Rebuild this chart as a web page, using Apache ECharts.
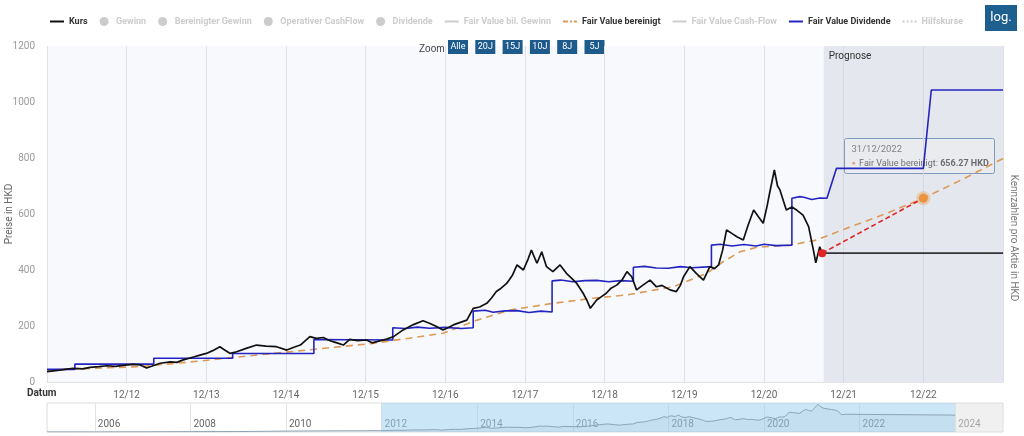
<!DOCTYPE html>
<html>
<head>
<meta charset="utf-8">
<script src="https://cdn.jsdelivr.net/npm/echarts@6/dist/echarts.min.js"></script>
<style>
html,body{margin:0;padding:0;background:#fff;}
#chart{width:1024px;height:436px;}
</style>
</head>
<body>
<div id="chart"></div>
<script>
// ---------- DATA ----------
const legendNames = ['Kurs','Gewinn','Bereinigter Gewinn','Operativer CashFlow','Dividende','Fair Value bil. Gewinn','Fair Value bereinigt','Fair Value Cash-Flow','Fair Value Dividende','Hilfskurse'];
const xTickLabels = ['12/12','12/13','12/14','12/15','12/16','12/17','12/18','12/19','12/20','12/21','12/22'];
const navYears = [2006,2008,2010,2012,2014,2016,2018,2020,2022,2024];
const zoomButtons = ['Alle','20J','15J','10J','8J','5J'];

const kurs = [
[2012.00,37],[2012.08,40],[2012.16,42],[2012.25,46],[2012.33,49],[2012.45,47],[2012.54,52],[2012.65,55],[2012.75,58],[2012.86,56],[2012.98,60],
[2013.08,63],[2013.17,61],[2013.25,50],[2013.33,58],[2013.42,67],[2013.55,72],[2013.63,70],[2013.71,79],[2013.85,90],[2013.92,96],
[2014.00,102],[2014.08,112],[2014.17,126],[2014.22,116],[2014.30,102],[2014.38,108],[2014.50,120],[2014.63,132],[2014.75,128],[2014.88,126],
[2015.01,114],[2015.10,124],[2015.18,132],[2015.30,162],[2015.38,156],[2015.47,159],[2015.53,150],[2015.59,144],[2015.66,138],[2015.72,132],
[2015.80,152],[2015.90,148],[2016.01,150],[2016.08,140],[2016.14,144],[2016.25,152],[2016.35,162],[2016.47,186],[2016.60,205],[2016.72,219],
[2016.80,210],[2016.89,198],[2016.97,186],[2017.04,195],[2017.10,204],[2017.18,212],[2017.27,221],[2017.35,263],[2017.43,268],[2017.52,281],
[2017.58,300],[2017.64,323],[2017.70,335],[2017.77,352],[2017.84,380],[2017.90,418],[2017.98,400],[2018.04,440],[2018.08,471],[2018.15,424],
[2018.21,465],[2018.27,412],[2018.35,394],[2018.44,418],[2018.52,388],[2018.58,372],[2018.65,352],[2018.73,317],[2018.78,290],[2018.82,263],
[2018.90,293],[2018.96,305],[2019.02,317],[2019.08,335],[2019.15,346],[2019.22,365],[2019.28,394],[2019.34,376],[2019.40,329],[2019.48,346],
[2019.57,364],[2019.65,340],[2019.72,345],[2019.82,329],[2019.90,323],[2019.95,345],[2019.99,376],[2020.07,412],[2020.15,388],[2020.24,364],
[2020.32,412],[2020.38,405],[2020.43,418],[2020.48,470],[2020.53,543],[2020.60,530],[2020.66,519],[2020.74,507],[2020.80,560],[2020.87,614],
[2020.93,590],[2020.99,567],[2021.04,630],[2021.07,674],[2021.13,757],[2021.17,700],[2021.20,686],[2021.24,650],[2021.28,614],[2021.35,625],
[2021.41,614],[2021.49,596],[2021.56,555],[2021.62,471],[2021.65,426],[2021.70,483],[2021.73,460]
];
const kursPrognose = [[2021.73,460],[2024.0,460]];
const kursEarly = [[2005.0,1],[2006.0,2],[2007.0,5],[2008.0,10],[2009.0,12],[2010.0,25],[2011.0,32],[2011.6,34]];

const fvDividende = [
[2012.00,45],[2012.35,45],[2012.35,64],[2013.34,64],[2013.34,85],[2014.33,85],[2014.33,102],[2015.35,102],[2015.35,152],[2016.34,150],
[2016.34,194],[2016.5,191],[2016.65,196],[2016.8,192],[2017.0,195],[2017.2,191],[2017.35,194],[2017.35,253],[2017.5,256],[2017.6,249],
[2017.75,254],[2017.9,255],[2018.05,248],[2018.2,253],[2018.34,250],[2018.34,361],[2018.45,364],[2018.6,358],[2018.75,362],[2018.9,363],
[2019.05,358],[2019.2,362],[2019.36,360],[2019.36,410],[2019.5,413],[2019.65,407],[2019.8,406],[2019.95,412],[2020.1,408],[2020.34,412],
[2020.34,489],[2020.45,492],[2020.6,486],[2020.75,491],[2020.9,486],[2021.0,492],[2021.15,487],[2021.35,489],[2021.35,656],[2021.45,662],
[2021.5,660],[2021.6,652],[2021.7,657],[2021.79,656],[2021.91,763],[2023.0,763],[2023.10,1043],[2024.0,1043]
];
const fvBereinigt = [
[2012.0,43],[2013.17,55],[2013.92,75],[2014.84,102],[2016.09,138],[2016.97,174],[2017.40,221],[2017.81,257],[2018.35,281],[2018.85,299],
[2019.28,311],[2019.86,340],[2020.28,388],[2020.49,430],[2020.70,465],[2020.91,481],[2021.33,489],[2021.66,507],[2022.0,545],[2022.5,598],
[2023.0,656.27],[2023.5,725],[2024.0,798]
];
const prognosePfad = [[2021.73,460],[2023.0,656.27]];
const prognoseStart = 2021.75;

// ---------- CHART ----------
const chart = echarts.init(document.getElementById('chart'), null, {renderer:'canvas'});
const FONT = 'Roboto, "Open Sans", sans-serif';
const hidden = {};
['Gewinn','Bereinigter Gewinn','Operativer CashFlow','Dividende','Fair Value bil. Gewinn','Fair Value Cash-Flow','Hilfskurse'].forEach(n=>hidden[n]=false);
const ICON_CIRCLE = 'circle';
const ICON_LINE = 'path://M0,0 L14,0 L14,2 L0,2 Z';
const ICON_DASH = 'path://M0,0 L5,0 L5,2 L0,2 Z M7,0 L9,0 L9,2 L7,2 Z M11,0 L14,0 L14,2 L11,2 Z';
const ICON_DOT = 'path://M0,0 L2,0 L2,2 L0,2 Z M4,0 L6,0 L6,2 L4,2 Z M8,0 L10,0 L10,2 L8,2 Z M12,0 L14,0 L14,2 L12,2 Z';
const legendIcons = {'Kurs':ICON_LINE,'Gewinn':ICON_CIRCLE,'Bereinigter Gewinn':ICON_CIRCLE,'Operativer CashFlow':ICON_CIRCLE,'Dividende':ICON_CIRCLE,
  'Fair Value bil. Gewinn':ICON_LINE,'Fair Value bereinigt':ICON_DASH,'Fair Value Cash-Flow':ICON_LINE,'Fair Value Dividende':ICON_LINE,'Hilfskurse':ICON_DOT};

const emptySeries = (name, extra) => Object.assign({name, type:'line', data:[], symbol:'none', xAxisIndex:0, yAxisIndex:1, lineStyle:{width:1.5, color:'#999'}, itemStyle:{color:'#999'}}, extra||{});

const option = {
  animation:false,
  textStyle:{fontFamily:FONT},
  legend:{
    left:45, top:12, itemGap:12, itemWidth:14, itemHeight:9, itemTextGap:4,
    textStyle:{fontSize:9, fontWeight:'bold', color:'#333', fontFamily:FONT},
    inactiveColor:'#cccccc',
    selected:hidden,
    data: legendNames.map(n => ({name:n, icon:legendIcons[n]}))
  },
  grid:[
    {left:47, right:21, top:46, bottom:54, show:true, backgroundColor:'#f7f9fd', borderWidth:0, outerBoundsMode:'none', containLabel:false},
    {left:47, right:21, top:403, height:29, show:true, backgroundColor:'transparent', borderColor:'#dcdcdc', borderWidth:1, outerBoundsMode:'none', containLabel:false}
  ],
  xAxis:[
    {type:'value', gridIndex:0, min:2012, max:2024, interval:1,
     axisLine:{show:true, lineStyle:{color:'#e3e3e3'}}, axisTick:{show:false},
     splitLine:{show:true, lineStyle:{color:'#dde1e7', width:1}},
     axisLabel:{color:'#666', fontSize:10, margin:8,
       formatter: v => { const i = Math.round(v) - 2013; return (i>=0 && i<xTickLabels.length) ? xTickLabels[i] : ''; }}},
    {type:'value', gridIndex:1, min:2005, max:2025,
     axisLine:{show:false}, axisTick:{show:false, customValues:navYears},
     splitLine:{show:true, lineStyle:{color:'#e2e2e2'}},
     axisLabel:{customValues:navYears, inside:true, margin:3, align:'left', padding:[0,0,0,3], color:'#666', fontSize:10,
       formatter: v => String(Math.round(v))}}
  ],
  yAxis:[
    {type:'value', gridIndex:0, min:0, max:1200, interval:200,
     name:'Preise in HKD', nameLocation:'middle', nameGap:33, nameRotate:90, nameMoveOverlap:false,
     nameTextStyle:{color:'#666', fontSize:10},
     axisLine:{show:false}, axisTick:{show:false}, splitLine:{show:false},
     axisLabel:{color:'#999', fontSize:10, margin:12, formatter: v => String(v)}},
    {type:'value', gridIndex:0, position:'right', min:0, max:1200,
     axisLine:{show:false}, axisTick:{show:false}, splitLine:{show:false}, axisLabel:{show:false}},
    {type:'value', gridIndex:1, min:0, max:790, show:false}
  ],
  series:[
    {name:'Kurs', type:'line', data:kurs, symbol:'none', xAxisIndex:0, yAxisIndex:0, z:6,
     lineStyle:{color:'#111', width:1.7}, itemStyle:{color:'#111'},
     markArea:{silent:true, itemStyle:{color:'rgba(196,202,214,0.38)'},
       label:{show:true, position:'insideTopLeft', color:'#333', fontSize:10, fontFamily:FONT},
       data:[[{xAxis:prognoseStart, yAxis:1200, name:'Prognose'},{xAxis:2024, yAxis:0}]]}},
    emptySeries('Gewinn'),
    emptySeries('Bereinigter Gewinn'),
    emptySeries('Operativer CashFlow'),
    emptySeries('Dividende'),
    emptySeries('Fair Value bil. Gewinn', {yAxisIndex:0}),
    {name:'Fair Value bereinigt', type:'line', data:fvBereinigt, symbol:'none', xAxisIndex:0, yAxisIndex:0, z:4,
     lineStyle:{color:'#dc9a55', width:1.6, type:[7,5]}, itemStyle:{color:'#dc9a55'}},
    emptySeries('Fair Value Cash-Flow', {yAxisIndex:0}),
    {name:'Fair Value Dividende', type:'line', data:fvDividende, symbol:'none', xAxisIndex:0, yAxisIndex:0, z:5,
     lineStyle:{color:'#2424c0', width:1.6}, itemStyle:{color:'#2424c0'}},
    emptySeries('Hilfskurse', {yAxisIndex:0, lineStyle:{width:1.5, color:'#999', type:'dotted'}}),
    {name:'Kurs Prognose', type:'line', data:kursPrognose, symbol:'none', xAxisIndex:0, yAxisIndex:0, z:5,
     lineStyle:{color:'#333', width:1.7}},
    {name:'Prognose Pfad', type:'line', data:[
        {value:prognosePfad[0], symbol:'circle', symbolSize:8, itemStyle:{color:'#e02424'}},
        {value:prognosePfad[1], symbol:'circle', symbolSize:9, itemStyle:{color:'#ec9440', borderColor:'rgba(236,148,64,0.35)', borderWidth:5}}
     ], xAxisIndex:0, yAxisIndex:0, z:7, showSymbol:true,
     lineStyle:{color:'#e02424', width:1.6, type:[5,3]}},
    {name:'Navigator', type:'line', data:kursEarly.concat(kurs, kursPrognose), symbol:'none', xAxisIndex:1, yAxisIndex:2,
     lineStyle:{color:'#8ea3b6', width:1}, areaStyle:{color:'rgba(120,140,160,0.12)'},
     markArea:{silent:true, data:[
       [{xAxis:2012, itemStyle:{color:'rgba(160,210,238,0.55)'}},{xAxis:2024}],
       [{xAxis:2024, itemStyle:{color:'rgba(225,225,225,0.5)'}},{xAxis:2025}]
     ]}}
  ],
  graphic:[
    {type:'text', left:419, top:44, style:{text:'Zoom', fontSize:10, fill:'#444', font:'10px '+FONT}},
    ...zoomButtons.map((b,i)=>({type:'group', left:448 + i*27.3, top:40, children:[
      {type:'rect', shape:{x:0,y:0,width:20,height:14}, style:{fill:'#1d5b8c'}},
      {type:'text', style:{text:b, x:10, y:7, align:'center', verticalAlign:'middle', fill:'#fff', font:'9px '+FONT}}
    ]})),
    {type:'group', left:985, top:5, children:[
      {type:'rect', shape:{x:0,y:0,width:32,height:26}, style:{fill:'#1d5f8f'}},
      {type:'text', style:{text:'log.', x:16, y:13, align:'center', verticalAlign:'middle', fill:'#fff', font:'13px '+FONT}}
    ]},
    {type:'text', left:27, top:388, style:{text:'Datum', font:'bold 10px '+FONT, fill:'#333'}},
    {type:'text', x:1013, y:238, rotation:-Math.PI/2, style:{text:'Kennzahlen pro Aktie in HKD', align:'center', verticalAlign:'middle', font:'10px '+FONT, fill:'#777'}},
    {type:'group', left:844, top:138, z:100, children:[
      {type:'rect', shape:{x:0,y:0,width:150,height:35, r:2}, style:{fill:'rgba(255,255,255,0.96)', stroke:'#4f7fae', lineWidth:1}},
      {type:'text', style:{text:'31/12/2022', x:7, y:11, verticalAlign:'middle', font:'9.5px '+FONT, fill:'#555'}},
      {type:'text', style:{
        text:'{d|●} {t|Fair Value bereinigt: }{b|656.27 HKD}', x:7, y:25, verticalAlign:'middle',
        rich:{d:{fill:'#ec9440', fontSize:7, fontFamily:FONT}, t:{fill:'#333', fontSize:9, fontFamily:FONT}, b:{fill:'#333', fontSize:9, fontWeight:'bold', fontFamily:FONT}}}}
    ]}
  ]
};
chart.setOption(option);
</script>
</body>
</html>
